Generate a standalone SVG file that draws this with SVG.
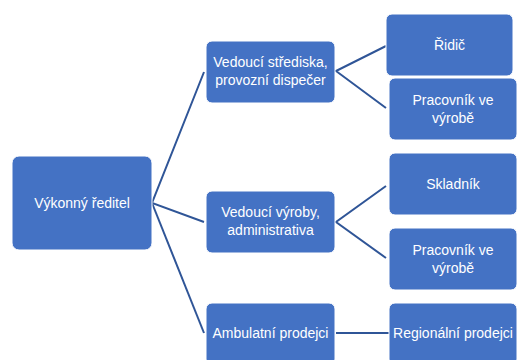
<svg xmlns="http://www.w3.org/2000/svg" width="517" height="360" viewBox="0 0 517 360">
<style>
.box{fill:#4472C4;stroke:#ffffff;stroke-width:1}
.t{font-family:"Liberation Sans",Arial,sans-serif;font-size:14px;fill:#ffffff;text-anchor:middle}
.c{stroke:#2F5597;stroke-width:2;fill:none}
</style>
<rect width="517" height="360" fill="#ffffff"/>
<g id="connectors">
<polyline class="c" points="204,72 152,203 204,222"/>
<line class="c" x1="152" y1="203" x2="204" y2="333"/>
<polyline class="c" points="386,46 336,71 386,108"/>
<polyline class="c" points="386,186 336,222 386,258"/>
<line class="c" x1="336" y1="333" x2="389" y2="333"/>
</g>
<g id="n-root"><rect class="box" x="12" y="156" width="140" height="94" rx="7"/><text class="t" x="82" y="208">Výkonný ředitel</text></g>
<g id="n-vs"><rect class="box" x="206" y="41" width="129" height="62" rx="6"/><text class="t" x="270.5" y="67">Vedoucí střediska,</text><text class="t" x="270.5" y="85">provozní dispečer</text></g>
<g id="n-vv"><rect class="box" x="206" y="191" width="129" height="62" rx="6"/><text class="t" x="270.5" y="217">Vedoucí výroby,</text><text class="t" x="270.5" y="235">administrativa</text></g>
<g id="n-ap"><rect class="box" x="206" y="303" width="129" height="62" rx="6"/><text class="t" x="270.5" y="338">Ambulatní prodejci</text></g>
<g id="n-ridic"><rect class="box" x="386" y="14" width="127" height="62" rx="6"/><text class="t" x="449.5" y="50">Řidič</text></g>
<g id="n-pv1"><rect class="box" x="389" y="78" width="128" height="62" rx="6"/><text class="t" x="453" y="105">Pracovník ve</text><text class="t" x="453" y="123">výrobě</text></g>
<g id="n-skl"><rect class="box" x="389" y="153" width="128" height="62" rx="6"/><text class="t" x="453" y="189">Skladník</text></g>
<g id="n-pv2"><rect class="box" x="389" y="228" width="128" height="62" rx="6"/><text class="t" x="453" y="255">Pracovník ve</text><text class="t" x="453" y="273">výrobě</text></g>
<g id="n-rp"><rect class="box" x="389" y="303" width="128" height="62" rx="6"/><text class="t" x="453" y="338">Regionální prodejci</text></g>
</svg>
